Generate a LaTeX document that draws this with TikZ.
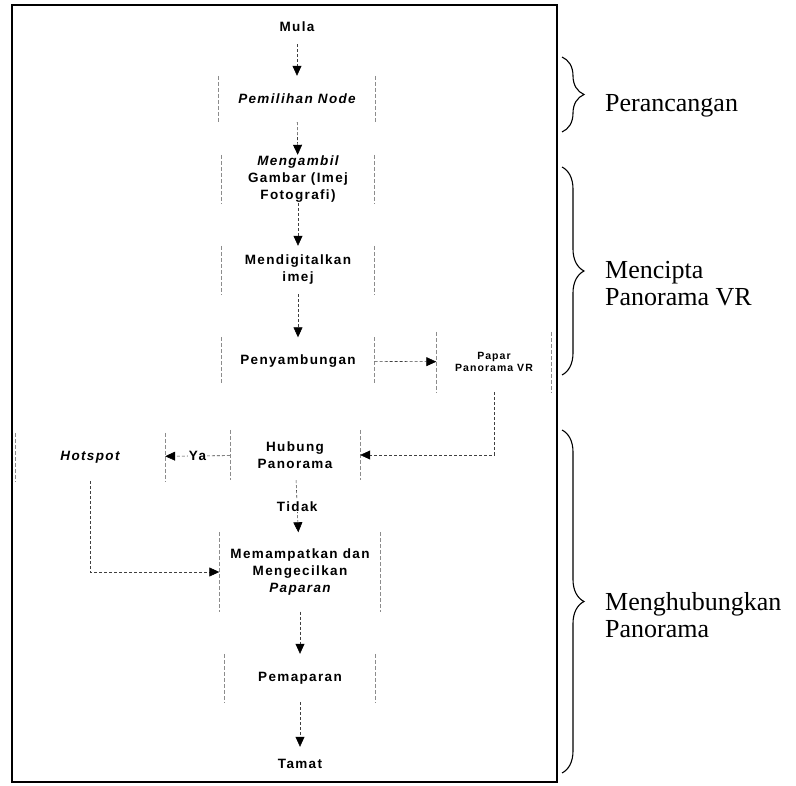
\documentclass[tikz,border=0pt]{standalone}
\usepackage{fontspec}
\setmainfont{Liberation Serif}
\newfontfamily\boxfont[LetterSpace=10]{Liberation Sans}
\usetikzlibrary{positioning,decorations.pathreplacing,arrows.meta}

\begin{document}
\begin{tikzpicture}
		[x=1pt, y=-1pt,
		boxside/.style ={draw=black!45, dash pattern=on 4pt off 2pt, line width=0.6pt},
		block/.style ={font=\boxfont\bfseries\fontsize{13.5}{17}\selectfont, align=center, inner sep=0pt, minimum width=153pt, minimum height=48pt,
			append after command={(\tikzlastnode.north west) edge[boxside] (\tikzlastnode.south west)
				(\tikzlastnode.north east) edge[boxside] (\tikzlastnode.south east)}},
		terminal/.style ={font=\boxfont\bfseries\fontsize{13.5}{17}\selectfont, inner sep=0pt, minimum width=120pt, minimum height=34pt},
		line/.style ={draw=black!75, densely dashed, line width=0.6pt, -{Triangle[length=10pt,width=9pt,black]}},
		phase/.style ={draw, line width=1.1pt, decorate, decoration={brace, amplitude=22pt, aspect=0.5}},
		stage/.style ={font=\fontsize{26}{27}\selectfont, inner sep=0pt, align=left}]
		\useasboundingbox (0,0) rectangle (796,786);
		\draw[line width=1.3pt] (12,5) rectangle (557,782);

		% alur utama
		\node[terminal] (mula) at (297,27) {Mula};
		\node[block, minimum width=157pt, minimum height=46pt] (pilih) at (297,99) {\itshape Pemilihan Node};
		\node[block] (ambil) at (298,179) {\itshape Mengambil\\Gambar (Imej\\Fotografi)};
		\node[block] (digital) at (298,270) {Mendigitalkan\\imej};
		\node[block, minimum height=47pt] (sambung) at (298,361) {Penyambungan};
		\node[block, font=\boxfont\bfseries\fontsize{10.5}{12}\selectfont, minimum width=115pt, minimum height=60pt] (papar) at (494,362) {Papar\\Panorama VR};
		\node[block, draw=none, append after command={}, minimum width=130pt, minimum height=50pt] (hubung) at (295,455) {Hubung\\Panorama};
		\node[block, minimum width=150pt] (hotspot) at (90,457) {\itshape Hotspot};
		\node[block, minimum width=161pt, minimum height=79pt] (mampat) at (300,572) {Memampatkan dan\\Mengecilkan\\\itshape Paparan};
		\node[block, minimum width=151pt] (papar2) at (300,678) {Pemaparan};
		\node[terminal, minimum width=124pt] (tamat) at (300,764) {Tamat};

		\path[line] (mula) -- (pilih);
		\path[line] (pilih) -- (ambil);
		\path[line] (ambil) -- (digital);
		\path[line] (digital) -- (sambung);
		\path[line] (sambung) -- (papar);
		\path[line] (papar.south) |- (hubung.east);
		\path[line] (hubung) -- node[terminal, minimum width=0pt, minimum height=0pt, fill=white, inner sep=1pt] {Ya} (hotspot);
		\path[line] (hubung) -- node[terminal, minimum width=0pt, minimum height=0pt, fill=white, inner sep=1pt] {Tidak} (mampat);
		\path[line] (hotspot.south) |- (mampat.west);
		\path[line] (mampat) -- (papar2);
		\path[line] (papar2) -- (tamat);

		% fasa
		\draw[phase] (562,57) -- (562,132);
		\draw[phase] (562,167) -- (562,375);
		\draw[phase] (562,430) -- (562,773);
		\node[stage, anchor=base west] (rancang) at (605,112) {Perancangan};
		\node[stage, anchor=north west] (cipta) at (605,261) {Mencipta\\Panorama VR};
		\node[stage, anchor=north west] (sambungfasa) at (605,592) {Menghubungkan\\Panorama};

	\end{tikzpicture}
\end{document}
